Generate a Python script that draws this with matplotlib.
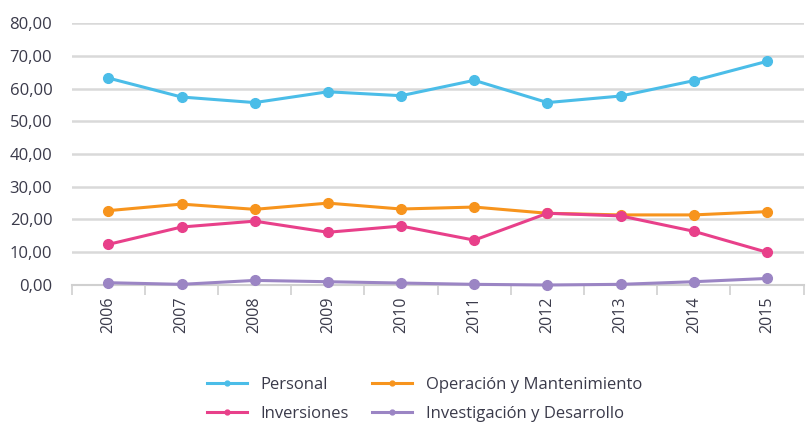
import numpy as np
import matplotlib.pyplot as plt
from matplotlib.ticker import FuncFormatter

years = ['2006', '2007', '2008', '2009', '2010', '2011', '2012', '2013', '2014', '2015']
personal = [63.2, 57.4, 55.7, 59.0, 57.8, 62.5, 55.7, 57.7, 62.4, 68.3]
operacion = [22.7, 24.7, 23.1, 25.0, 23.2, 23.8, 21.9, 21.4, 21.4, 22.4]
inversiones = [12.4, 17.7, 19.5, 16.1, 18.0, 13.7, 21.9, 21.1, 16.4, 10.0]
investigacion = [0.7, 0.2, 1.4, 1.0, 0.6, 0.2, 0.0, 0.2, 1.0, 2.0]

series = [
    ('Personal', personal, '#4bbde8'),
    ('Operación y Mantenimiento', operacion, '#f7941d'),
    ('Inversiones', inversiones, '#e8408a'),
    ('Investigación y Desarrollo', investigacion, '#9b85c4'),
]

plt.rcParams['font.family'] = ['Open Sans', 'DejaVu Sans']
txt = '#3a3a4a'

fig = plt.figure(figsize=(8.06, 4.26), dpi=100)
ax = fig.add_axes([0.089, 0.331, 0.908, 0.615])

x = np.arange(len(years))
for name, vals, col in series:
    ax.plot(x, vals, color=col, lw=2.2, marker='o', markersize=7, label=name, clip_on=False, zorder=3)

ax.set_ylim(0, 80)
ax.set_xlim(-0.5, len(years) - 0.5)
ax.set_yticks(np.arange(0, 81, 10))
ax.yaxis.set_major_formatter(FuncFormatter(lambda v, p: f'{v:.2f}'.replace('.', ',')))
ax.grid(axis='y', color='#d9d9d9', lw=1.8)
ax.set_axisbelow(True)
for s in ['top', 'right', 'left']:
    ax.spines[s].set_visible(False)
ax.spines['bottom'].set_color('#d0d0d0')
ax.spines['bottom'].set_linewidth(1.5)

ax.set_xticks(x)
ax.set_xticklabels(years, rotation=90, fontsize=11.5, color=txt)
ax.tick_params(axis='x', which='major', length=0, pad=8)
ax.set_xticks(np.arange(-0.5, len(years) + 0.5, 1), minor=True)
ax.tick_params(axis='x', which='minor', length=7, color='#d0d0d0', width=1.2)
ax.tick_params(axis='y', length=0, labelsize=12, labelcolor=txt, pad=14)

# legend is filled row by row in the reference
handles, labels = ax.get_legend_handles_labels()
order = [0, 2, 1, 3]
leg = fig.legend([handles[i] for i in order], [labels[i] for i in order],
                 loc='lower center', bbox_to_anchor=(0.527, -0.025), ncol=2,
                 frameon=False, fontsize=12, markerscale=0.5, handlelength=2.4,
                 columnspacing=1.4, labelspacing=0.75, handletextpad=0.8)
for t in leg.get_texts():
    t.set_color(txt)

fig.savefig('out.png', dpi=100)
